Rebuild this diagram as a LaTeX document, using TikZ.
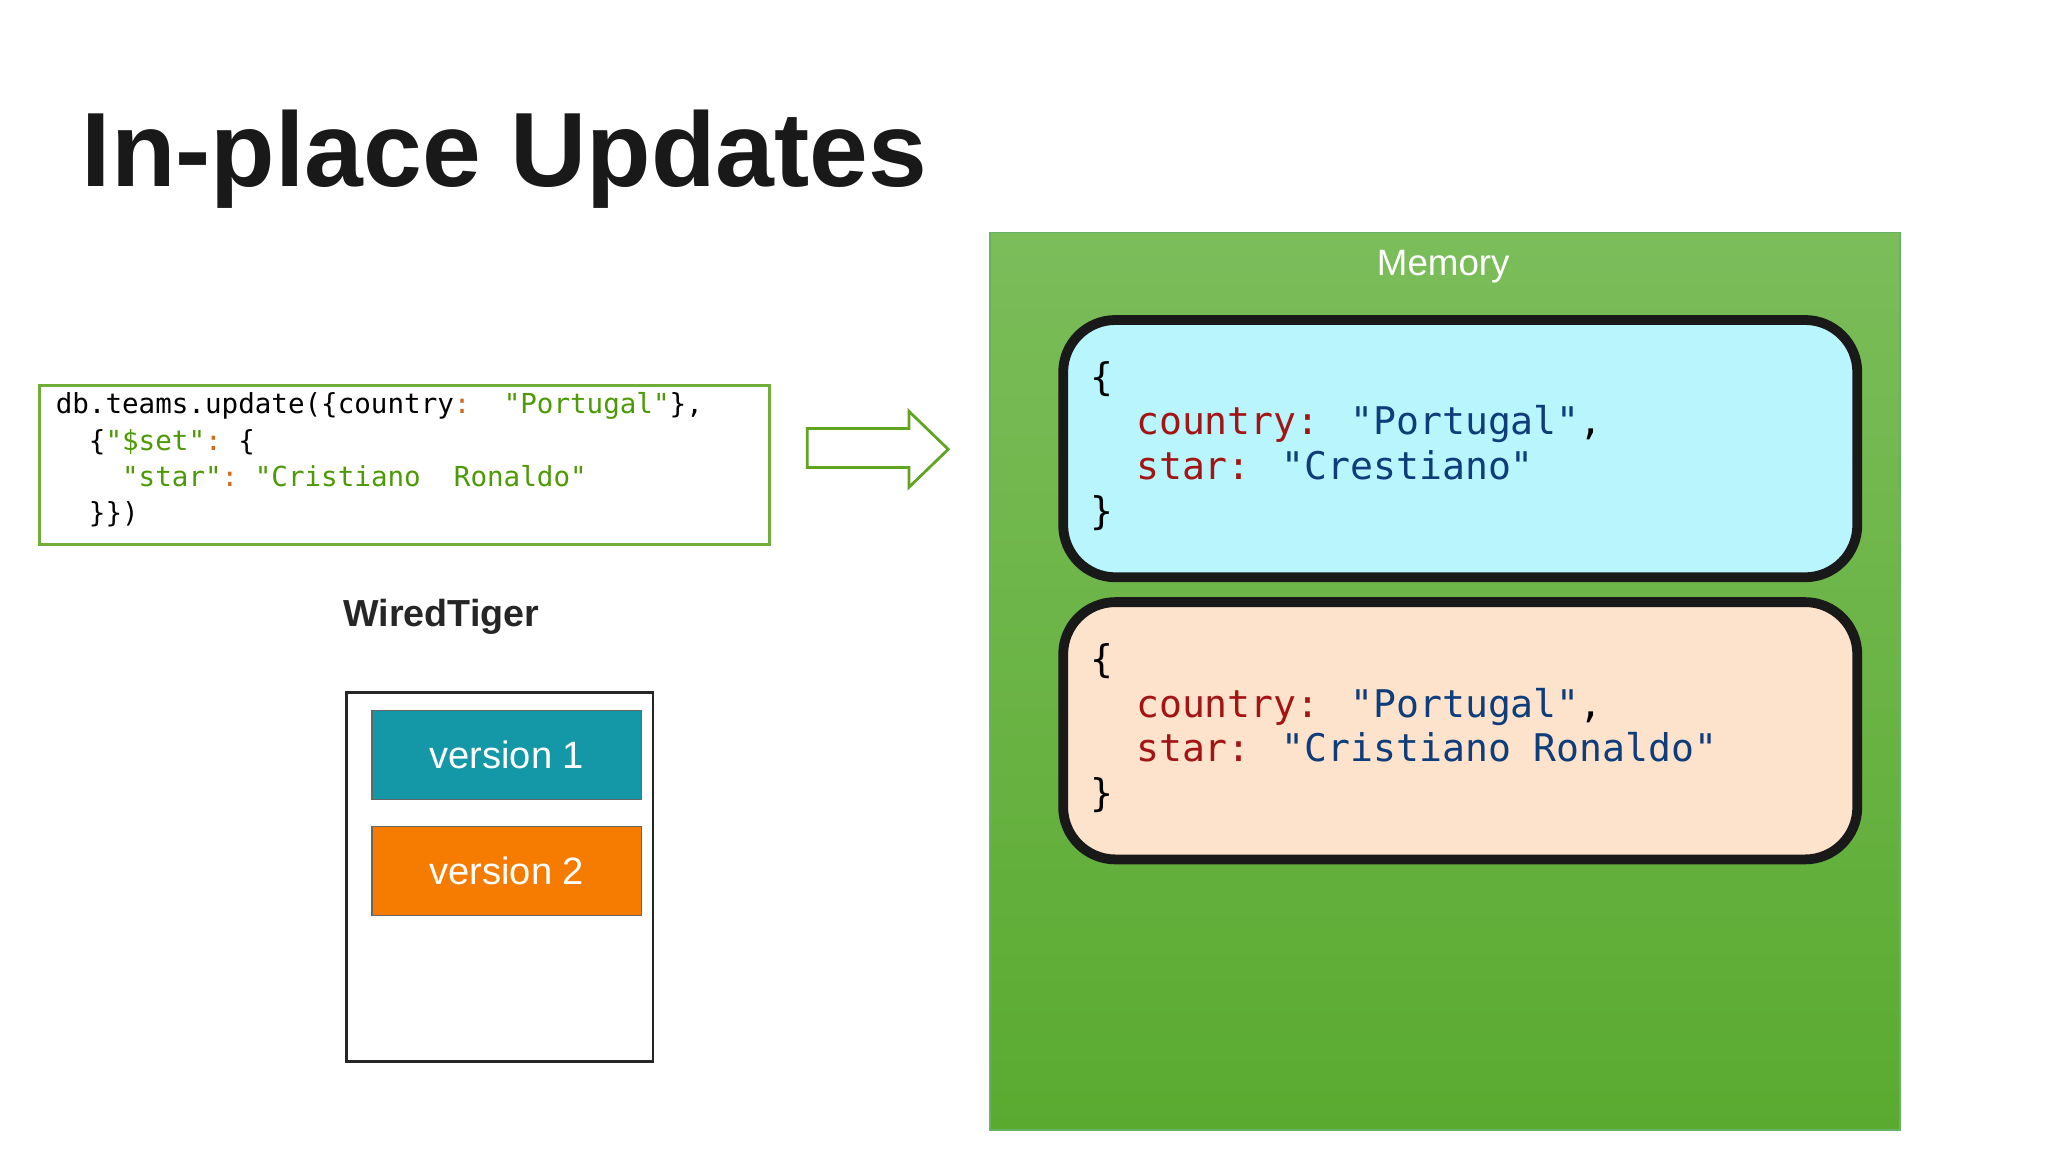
\documentclass[tikz,border=0pt]{standalone}
\usepackage{fontspec}
\setmainfont{Liberation Sans}
\newfontfamily\mono{DejaVu Sans Mono}
\definecolor{cgreen}{HTML}{4E9A06}
\definecolor{corange}{HTML}{D2691E}
\definecolor{kred}{HTML}{A31515}
\definecolor{sblue}{HTML}{0F3C7A}
\definecolor{teal}{HTML}{1497A6}
\definecolor{orng}{HTML}{F57C00}
\begin{document}
\begin{tikzpicture}[x=0.01cm,y=-0.01cm,
  doc/.style={draw=black!90,line width=0.75mm,rounded corners=0.4cm},
  ver/.style={draw=black!60,line width=0.3pt,minimum width=2.06cm,minimum height=0.68cm,text=white,font=\fontsize{8.3pt}{10pt}\selectfont}]
\useasboundingbox (0,0) rectangle (1568,882);
\fill[white] (0,0) rectangle (1568,882);
\node[anchor=west,font=\fontsize{23pt}{26pt}\selectfont\bfseries,text=black!90,inner sep=0pt] (title) at (62,122) {In-place Updates};
% code box
\draw[draw=cgreen!80,line width=0.6pt] (30,295) rectangle (589,417);
\node[anchor=north west,align=left,font=\mono\fontsize{6pt}{7.9pt}\selectfont,inner sep=0pt] (code) at (42,300) {%
db.teams.update(\{country\textcolor{corange}{:}\ \ \textcolor{cgreen}{"Portugal"}\},\\
\ \ \{\textcolor{cgreen}{"\$set"}\textcolor{corange}{:}\ \{\\
\ \ \ \ \textcolor{cgreen}{"star"}\textcolor{corange}{:}\ \textcolor{cgreen}{"Cristiano\ \ Ronaldo"}\\
\ \ \}\})};
% arrow
\draw[cgreen!90,line width=0.6pt,fill=white] (618,328) -- (696,328) -- (696,315) -- (726,344) -- (696,373) -- (696,358) -- (618,358) -- cycle;
% WiredTiger
\node[font=\fontsize{8.2pt}{10pt}\selectfont\bfseries,text=black!85] (wt) at (338,472) {WiredTiger};
\draw[black!85,line width=0.6pt] (265,530) rectangle (500,813);
\node[ver,fill=teal] (v1) at (388,578) {version 1};
\node[ver,fill=orng] (v2) at (388,667) {version 2};
% memory
\shade[top color={rgb,255:red,123;green,189;blue,90},bottom color={rgb,255:red,90;green,170;blue,48}] (758,178) rectangle (1455,865);
\draw[green!50!black!60,line width=0.4pt] (758,178) rectangle (1455,865);
\node[text=white,font=\fontsize{8pt}{10pt}\selectfont] (mem) at (1105,204) {Memory};
\draw[doc,fill={rgb,255:red,184;green,245;blue,253}] (814,245) rectangle (1422,442);
\draw[doc,fill={rgb,255:red,253;green,227;blue,203}] (814,461) rectangle (1422,658);
\node[anchor=north west,align=left,font=\mono\fontsize{8.3pt}{9.7pt}\selectfont,inner sep=0pt] (d1) at (834,276) {%
\{\\
\ \ \textcolor{kred}{country:} \textcolor{sblue}{"Portugal"},\\
\ \ \textcolor{kred}{star:} \textcolor{sblue}{"Crestiano"}\\
\}};
\node[anchor=north west,align=left,font=\mono\fontsize{8.3pt}{9.7pt}\selectfont,inner sep=0pt] (d2) at (834,492) {%
\{\\
\ \ \textcolor{kred}{country:} \textcolor{sblue}{"Portugal"},\\
\ \ \textcolor{kred}{star:} \textcolor{sblue}{"Cristiano Ronaldo"}\\
\}};
\end{tikzpicture}
\end{document}
